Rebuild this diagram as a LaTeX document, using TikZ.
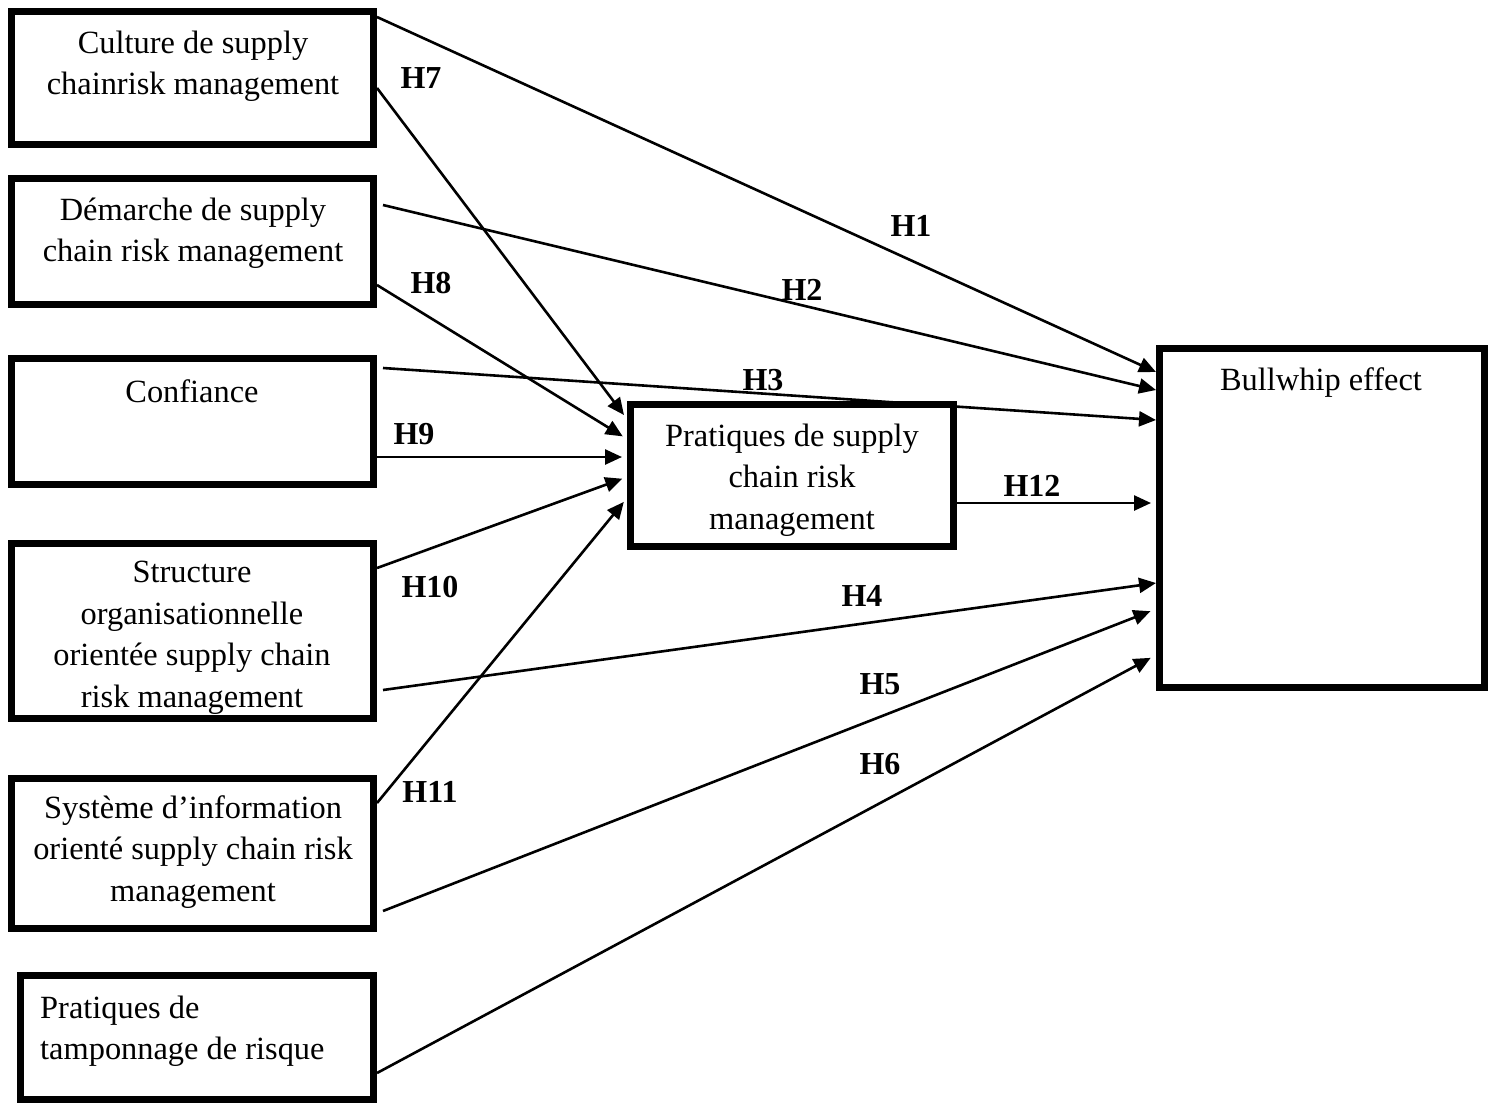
\documentclass[tikz,border=0pt]{standalone}
\usepackage{fontspec}
\setmainfont{Liberation Serif}
\usetikzlibrary{arrows.meta,calc}
\begin{document}
\begin{tikzpicture}[x=1pt,y=-1pt,
  box/.style={draw,line width=7pt,minimum width=#1,inner sep=0pt},
  txt/.style={align=center,inner sep=0pt,font=\fontsize{32.4}{41.5}\selectfont},
  hyp/.style={inner sep=0pt,font=\fontsize{32}{38}\selectfont\bfseries},
  arr/.style={line width=2.6pt,-{Triangle[length=17pt,width=15pt]}}]
\useasboundingbox (0,0) rectangle (1495,1104);
\fill[white] (0,0) rectangle (1495,1104);
% boxes
\node[box=362pt,minimum height=133pt] (c1) at (192.5,78) {};
\node[box=362pt,minimum height=126pt] (c2) at (192.5,241.5) {};
\node[box=362pt,minimum height=126pt] (c3) at (192.5,421.5) {};
\node[box=362pt,minimum height=175pt] (c4) at (192.5,631) {};
\node[box=362pt,minimum height=150pt] (c5) at (192.5,853.5) {};
\node[box=353pt,minimum height=124pt] (c6) at (197,1037.5) {};
\node[box=323pt,minimum height=142pt] (pr) at (792,475.5) {};
\node[box=325pt,minimum height=339pt] (bw) at (1322,518) {};
% texts
\node[txt] (t1) at (193,66) {Culture de supply\\chainrisk management};
\node[txt] (t2) at (193,233) {Démarche de supply\\chain risk management};
\node[txt] (t3) at (192,391) {Confiance};
\node[txt] (t4) at (192,638) {Structure\\organisationnelle\\orientée supply chain\\risk management};
\node[txt] (t5) at (193,852) {Système d’information\\orienté supply chain risk\\management};
\node[txt,align=left,anchor=west] (t6) at (40,1031) {Pratiques de\\tamponnage de risque};
\node[txt] (tp) at (792,480) {Pratiques de supply\\chain risk\\management};
\node[txt] (tb) at (1321,383) {Bullwhip effect};
% arrows to bullwhip
\draw[arr] (c1.east |- 0,17) -- (bw.west |- 0,372);
\draw[arr] ($(c2.east |- 0,205)+(6,0)$) -- (bw.west |- 0,390);
\draw[arr] ($(c3.east |- 0,368)+(6,0)$) -- (bw.west |- 0,420);
\draw[arr] ($(c4.east |- 0,690)+(6,0)$) -- (bw.west |- 0,583);
\draw[arr,shorten >=6pt] ($(c5.east |- 0,911)+(6,0)$) -- (bw.west |- 0,609);
\draw[arr,shorten >=6pt] (c6.east |- 0,1073) -- (bw.west |- 0,655);
% arrows to pratiques
\draw[arr,shorten >=5pt] (c1.east |- 0,88) -- (pr.west |- 0,419);
\draw[arr,shorten >=5pt] (c2.east |- 0,285) -- (pr.west |- 0,439);
\draw[arr,shorten >=5pt] (c3.east |- 0,457) -- (pr.west |- 0,457);
\draw[arr,shorten >=5pt] (c4.east |- 0,568) -- (pr.west |- 0,477);
\draw[arr,shorten >=5pt] (c5.east |- 0,803) -- (pr.west |- 0,498);
\draw[arr,shorten >=5pt] (pr.east |- 0,503) -- (bw.west |- 0,503);
% labels
\node[hyp] (h1) at (911,226) {H1};
\node[hyp] (h2) at (802,290) {H2};
\node[hyp] (h3) at (763,380) {H3};
\node[hyp] (h4) at (862,596) {H4};
\node[hyp] (h5) at (880,684) {H5};
\node[hyp] (h6) at (880,764) {H6};
\node[hyp] (h7) at (421,78) {H7};
\node[hyp] (h8) at (431,283) {H8};
\node[hyp] (h9) at (414,434) {H9};
\node[hyp] (h10) at (430,587) {H10};
\node[hyp] (h11) at (430,792) {H11};
\node[hyp] (h12) at (1032,486) {H12};
\end{tikzpicture}
\end{document}
